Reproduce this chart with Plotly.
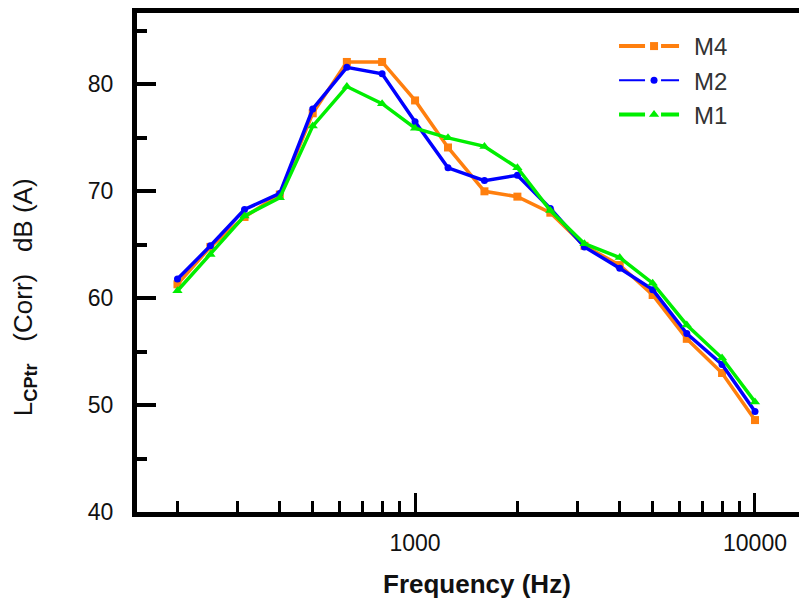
import plotly.graph_objects as go

freq = [200, 250, 315, 400, 500, 630, 800, 1000, 1250, 1600, 2000, 2500,
        3150, 4000, 5000, 6300, 8000, 10000]
m4 = [61.3, 64.8, 67.6, 69.7, 77.3, 82.1, 82.1, 78.5, 74.1, 70.0, 69.5, 68.0,
      64.9, 63.1, 60.3, 56.2, 53.0, 48.6]
m2 = [61.8, 64.9, 68.3, 69.8, 77.7, 81.6, 81.0, 76.5, 72.2, 71.0, 71.5, 68.4,
      64.8, 62.8, 60.8, 56.7, 53.8, 49.4]
m1 = [60.7, 64.1, 67.7, 69.4, 76.1, 79.8, 78.2, 75.9, 75.0, 74.2, 72.2, 68.2,
      65.1, 63.8, 61.4, 57.5, 54.4, 50.3]

x_major = [1000, 10000]
x_minor = [200, 300, 400, 500, 600, 700, 800, 900,
           2000, 3000, 4000, 5000, 6000, 7000, 8000, 9000]
y_major = [40, 50, 60, 70, 80]

series = [
    ("M4", m4, "#ff7f0e", "square", 8, 3.5),
    ("M2", m2, "#0000ff", "circle", 7, 3.5),
    ("M1", m1, "#00ee00", "triangle-up", 9, 3.5),
]

fig = go.Figure()
for name, vals, col, sym, ms, lw in series:
    fig.add_trace(go.Scatter(x=freq, y=vals, name=name, mode="lines+markers",
                             legendgroup=name, showlegend=False,
                             line=dict(color=col, width=lw),
                             marker=dict(symbol=sym, size=ms, color=col)))
# legend entries (line - marker - line look)
leg_w = {"M4": 4, "M2": 2, "M1": 4}
for name, vals, col, sym, ms, lw in series:
    fig.add_trace(go.Scatter(x=[None], y=[None], name=name, mode="lines+markers",
                             legendgroup=name, showlegend=True,
                             line=dict(color=col, width=leg_w[name],
                                       dash="26px,16px,18px"),
                             marker=dict(symbol=sym, size=ms, color=col)))

font = "Liberation Sans, Arial, sans-serif"
fig.update_layout(
    width=799, height=601,
    margin=dict(l=129, r=0, t=1, b=97),
    paper_bgcolor="white", plot_bgcolor="white",
    font=dict(family=font, color="#111111"),
    showlegend=True,
    legend=dict(x=0.712, y=0.978, xanchor="left", yanchor="top",
                font=dict(size=24, color="#333333"), itemwidth=70,
                bgcolor="rgba(0,0,0,0)", tracegroupgap=0),
    xaxis=dict(
        type="log", range=[2.182, 4.153],
        showgrid=False, zeroline=False,
        showline=True, linecolor="black", linewidth=5, mirror=True,
        tickvals=x_major, ticktext=[str(v) for v in x_major],
        ticks="inside", ticklen=19, tickwidth=3, tickcolor="black",
        ticklabelstandoff=6,
        tickfont=dict(size=23, color="#111111"),
        minor=dict(tickvals=x_minor, ticks="inside", ticklen=11, tickwidth=3,
                   tickcolor="black", showgrid=False),
    ),
    yaxis=dict(
        range=[40, 86.68],
        showgrid=False, zeroline=False,
        showline=True, linecolor="black", linewidth=5, mirror=False,
        tickvals=y_major,
        ticks="inside", ticklen=19, tickwidth=4, tickcolor="black",
        ticklabelstandoff=14,
        tickfont=dict(size=23, color="#111111"),
        minor=dict(dtick=5, tick0=45, ticks="inside", ticklen=10, tickwidth=4,
                   tickcolor="black", showgrid=False),
    ),
    annotations=[
        dict(text="<b>Frequency (Hz)</b>", xref="paper", yref="paper",
             x=0.5075, y=-0.145, xanchor="center", yanchor="middle",
             showarrow=False, font=dict(size=26, color="#111111")),
        dict(text="L<sub><b>CPtr</b></sub>&nbsp;&nbsp;&nbsp;(Corr)&nbsp;&nbsp;&nbsp;dB (A)",
             xref="paper", yref="paper", x=-0.168, y=0.4314,
             xanchor="center", yanchor="middle", textangle=-90,
             showarrow=False, font=dict(size=26, color="#111111")),
    ],
)

fig.write_html("out.html")
